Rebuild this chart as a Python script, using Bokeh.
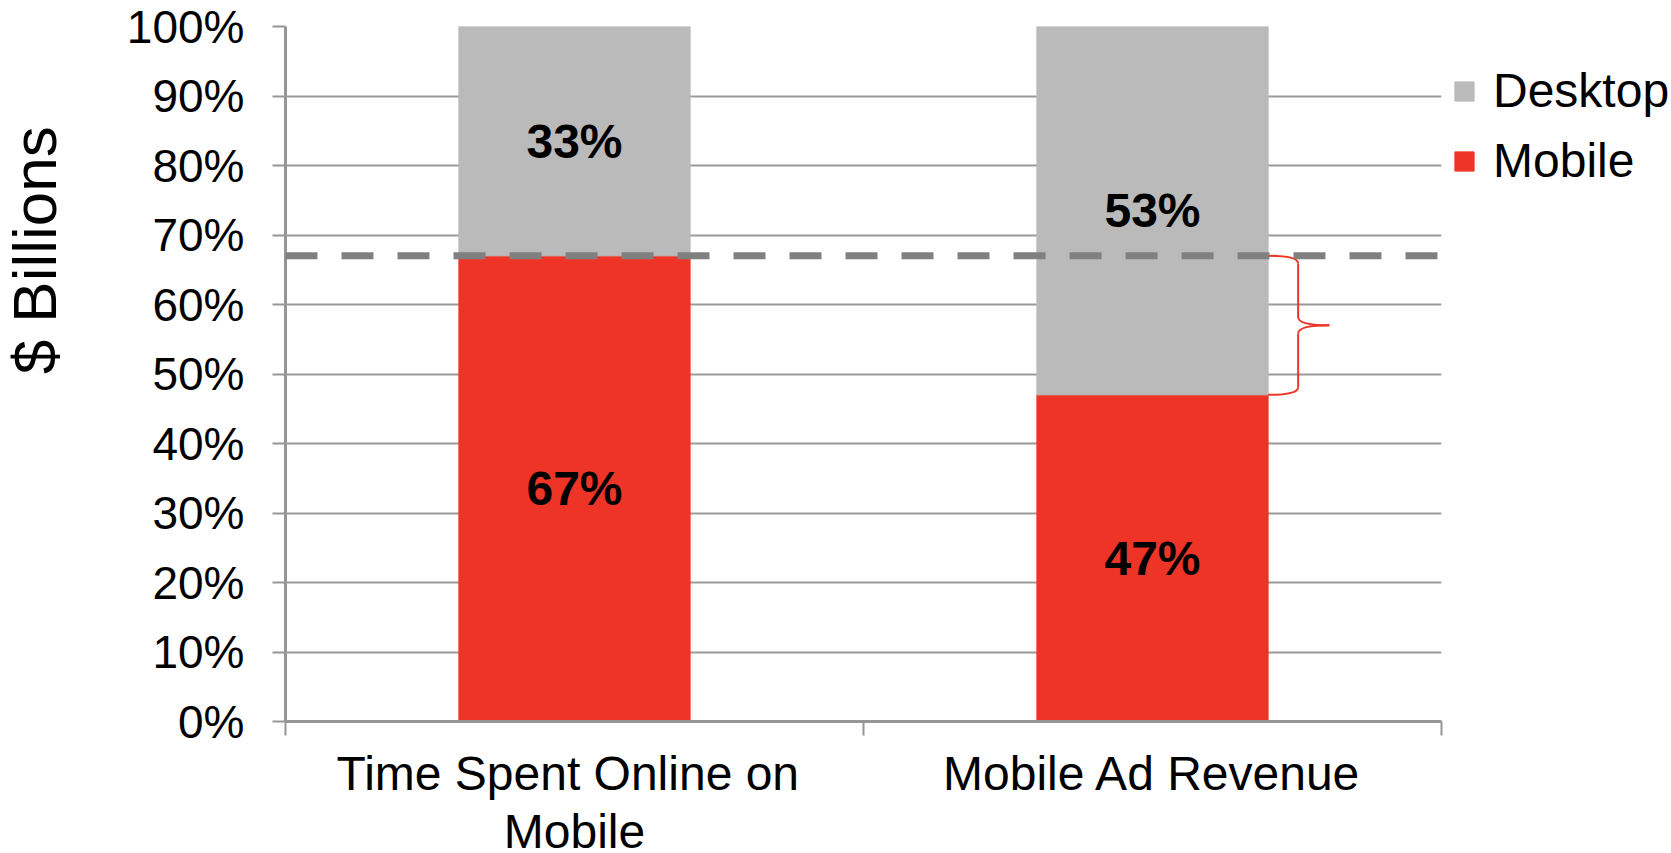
from bokeh.plotting import figure
from bokeh.layouts import row
from bokeh.models import (Range1d, FixedTicker, NumeralTickFormatter, Span,
                          Legend, LegendItem, ColumnDataSource)
from bokeh.core.properties import value
from bokeh.embed import file_html
from bokeh.resources import INLINE

# ---- data ----
categories = ["Time Spent  Online on\nMobile", "Mobile Ad Revenue"]
cat_x = [0.5, 1.5]
mobile = [0.67, 0.47]
desktop = [0.33, 0.53]
series = ["Mobile", "Desktop"]
y_ticks = [0.0, 0.1, 0.2, 0.3, 0.4, 0.5, 0.6, 0.7, 0.8, 0.9, 1.0]
y_axis_title = "$ Billions"

RED = "#EE3427"
GRAY = "#BABABA"
FONT = "Liberation Sans"
BAR_W = 0.4
TITLE_W = 75

src = ColumnDataSource(dict(x=cat_x, Mobile=mobile, Desktop=desktop))

p = figure(frame_width=1156, frame_height=695, x_range=Range1d(0, 2), y_range=Range1d(0, 1),
           output_backend="svg", toolbar_location=None,
           min_border_left=285 - TITLE_W, min_border_top=26, min_border_right=228,
           min_border_bottom=128)
p.outline_line_color = None
p.background_fill_color = "white"
p.border_fill_color = "white"

renderers = p.vbar_stack(series, x="x", width=BAR_W, color=[RED, GRAY], source=src)
r_mobile, r_desktop = renderers

# grid
p.xgrid.visible = False
p.ygrid.grid_line_color = "#9A9A9A"
p.ygrid.grid_line_width = 2

# y axis
ya = p.yaxis[0]
ya.ticker = FixedTicker(ticks=y_ticks)
ya.formatter = NumeralTickFormatter(format="0%")
ya.axis_line_color = "#969696"
ya.axis_line_width = 3
ya.major_tick_line_color = "#969696"
ya.major_tick_line_width = 2
ya.major_tick_out = 13
ya.major_tick_in = 0
ya.minor_tick_line_color = None
ya.major_label_text_font = FONT
ya.major_label_text_font_size = "46px"
ya.major_label_text_color = "black"
ya.major_label_standoff = 28

# x axis
xa = p.xaxis[0]
xa.ticker = FixedTicker(ticks=cat_x, minor_ticks=[0, 1, 2])
xa.major_label_overrides = {cx: lab for cx, lab in zip(cat_x, categories)}
xa.axis_line_color = "#969696"
xa.axis_line_width = 3
xa.major_tick_line_color = None
xa.major_tick_out = 0
xa.major_tick_in = 0
xa.minor_tick_line_color = "#969696"
xa.minor_tick_line_width = 2
xa.minor_tick_out = 14
xa.minor_tick_in = 0
xa.major_label_text_font = FONT
xa.major_label_text_font_size = "48px"
xa.major_label_text_color = "black"
xa.major_label_text_line_height = 1.1
xa.major_label_standoff = 11

# dashed reference line at the mobile share of time spent
p.add_layout(Span(location=mobile[0], dimension="width", line_color="#808080",
                  line_width=7, line_dash="32 24"))

# segment labels
lx, ly, lt = [], [], []
for cx, m, d in zip(cat_x, mobile, desktop):
    lx += [cx, cx]
    ly += [m / 2, m + d / 2]
    lt += [f"{round(m*100)}%", f"{round(d*100)}%"]
p.text(x=lx, y=ly, text=lt, text_font=value(FONT), text_font_size="48px",
       text_font_style="bold", text_color="black", text_align="center",
       text_baseline="middle")

# curly brace between the two mobile shares
xe = cat_x[1] + BAR_W / 2
yt, yb = mobile[0], mobile[1]
ym = (yt + yb) / 2
a, b = 0.052, 0.106
rt, rm = 0.011, 0.012
bx0 = [xe, xe + a, xe + a, xe + a]
by0 = [yt, ym + rm, ym - rm, yb + rt]
bx1 = [xe + a, xe + b, xe + b, xe]
by1 = [yt - rt, ym, ym, yb]
cx_ = [xe + a, xe + a, xe + a, xe + a]
cy_ = [yt, ym, ym, yb]
p.quadratic(x0=bx0, y0=by0, x1=bx1, y1=by1, cx=cx_, cy=cy_, line_color=RED, line_width=2)
p.segment(x0=[xe + a, xe + a], y0=[yt - rt, ym - rm], x1=[xe + a, xe + a], y1=[ym + rm, yb + rt],
          line_color=RED, line_width=2)

# legend
legend = Legend(items=[LegendItem(label=series[1], renderers=[r_desktop]),
                       LegendItem(label=series[0], renderers=[r_mobile])],
                location=(11, 533), orientation="vertical",
                glyph_width=24, glyph_height=24, label_height=54, spacing=15,
                label_standoff=17, padding=0, margin=0,
                border_line_color=None, background_fill_alpha=0,
                label_text_font=FONT, label_text_font_size="48px", label_text_color="black")
p.add_layout(legend, "right")

# y axis title, drawn in a narrow strip that shares the chart's vertical scale
t = figure(frame_width=TITLE_W, frame_height=695, x_range=Range1d(0, TITLE_W), y_range=p.y_range,
           output_backend="svg", toolbar_location=None,
           min_border_left=0, min_border_right=0, min_border_top=26, min_border_bottom=128)
t.axis.visible = False
t.grid.visible = False
t.outline_line_color = None
t.border_fill_color = "white"
t.background_fill_color = "white"
t.text(x=[34], y=[0.678], text=[y_axis_title], angle=1.5707963, text_font=value(FONT),
       text_font_size="62px", text_color="black", text_align="center",
       text_baseline="alphabetic")

layout = row(t, p, spacing=0)
open("out.html", "w").write(file_html(layout, INLINE))
